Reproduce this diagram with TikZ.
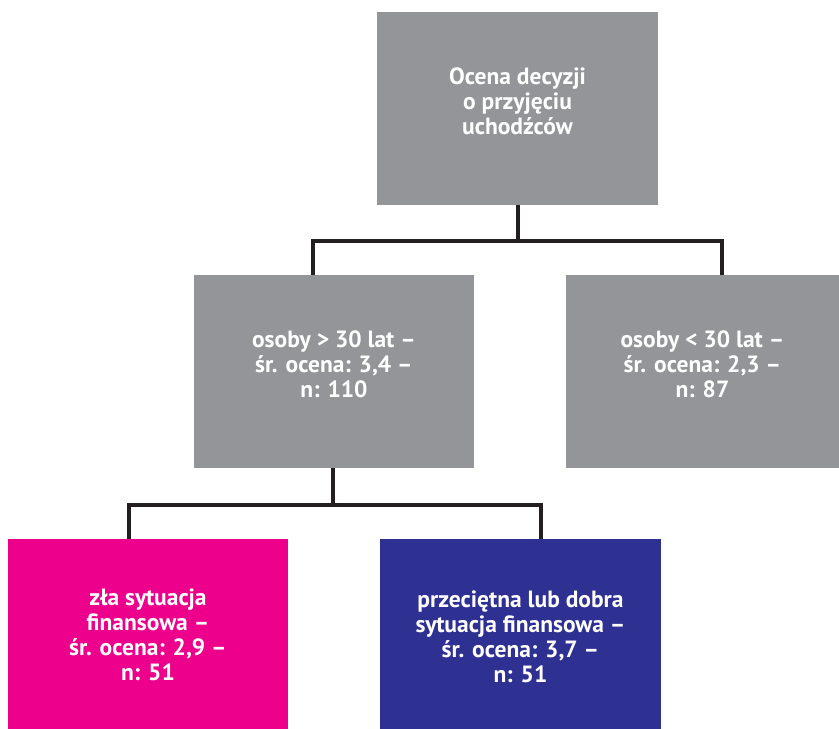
\documentclass[tikz,border=0pt]{standalone}
\usepackage{fontspec}
\setmainfont{PT Sans}
\definecolor{boxgray}{HTML}{939598}
\definecolor{boxpink}{HTML}{EC008C}
\definecolor{boxnavy}{HTML}{2E3192}
\definecolor{linedark}{HTML}{231F20}
\tikzset{
  box/.style={draw=none, inner sep=0pt, minimum width=#1},
  gbox/.style={box=#1, fill=boxgray, minimum height=193pt},
  txt/.style={text=white, align=center, font=\bfseries\fontsize{23.5}{25}\selectfont},
  conn/.style={draw=linedark, line width=4pt, line join=miter}
}
\begin{document}
\begin{tikzpicture}[x=1pt,y=-1pt]
\useasboundingbox (0,0) rectangle (839,729);
\node[gbox=281pt, label={[txt, yshift=7pt]center:Ocena decyzji\\o przyjęciu\\uchodźców}] (top) at (517.5,108.5) {};
\node[gbox=280pt, label={[txt, yshift=7pt]center:osoby > 30 lat –\\śr. ocena: 3,4 –\\n: 110}] (midL) at (334,371.5) {};
\node[gbox=273pt, label={[txt, yshift=7pt]center:osoby < 30 lat –\\śr. ocena: 2,3 –\\n: 87}] (midR) at (702.5,371.5) {};
\node[box=280pt, fill=boxpink, minimum height=190pt, label={[txt, yshift=-1pt]center:zła sytuacja\\finansowa –\\śr. ocena: 2,9 –\\n: 51}] (botL) at (148,634) {};
\node[box=281pt, fill=boxnavy, minimum height=190pt, label={[txt, yshift=-3pt]center:przeciętna lub dobra\\sytuacja finansowa –\\śr. ocena: 3,7 –\\n: 51}] (botR) at (520.5,634) {};
\draw[conn] (top.south) -- ++(0,36) -| ([xshift=-21pt]midL.north);
\draw[conn] (top.south) -- ++(0,36) -| ([xshift=19.5pt]midR.north);
\draw[conn] ([xshift=-1pt]midL.south) -- ++(0,37) -| ([xshift=-19pt]botL.north);
\draw[conn] ([xshift=-1pt]midL.south) -- ++(0,37) -| ([xshift=20.5pt]botR.north);
\end{tikzpicture}
\end{document}
